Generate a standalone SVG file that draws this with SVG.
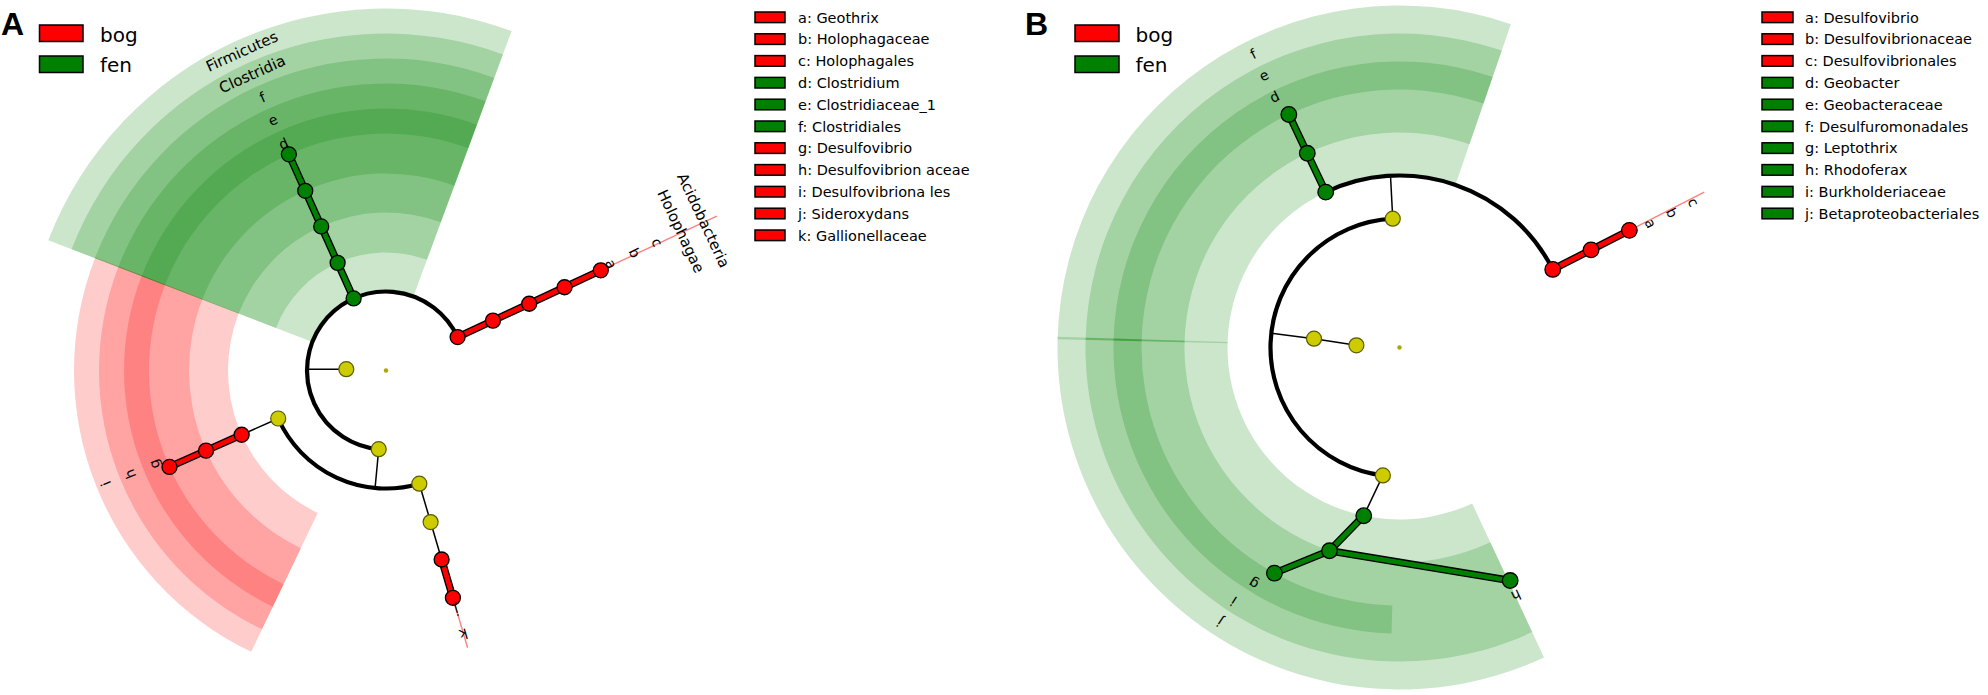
<svg xmlns="http://www.w3.org/2000/svg" width="1988" height="695" viewBox="0 0 1988 695">
<defs>
<style>
.sg{fill:#008000;fill-opacity:0.2}
.sr{fill:#ff0000;fill-opacity:0.2}
.arc{fill:none;stroke:#000;stroke-width:4.2}
.thin{fill:none;stroke:#000;stroke-width:1.5}
.pink{fill:none;stroke:#ff8080;stroke-width:1.4}
.co{fill:none;stroke:#000;stroke-width:7.5;stroke-linejoin:round}
.cg{fill:none;stroke:#008000;stroke-width:4.8;stroke-linejoin:round}
.cr{fill:none;stroke:#ff0000;stroke-width:4.8;stroke-linejoin:round}
.ng{fill:#008000;stroke:#000;stroke-width:1.3}
.nr{fill:#ff0000;stroke:#000;stroke-width:1.3}
.ny{fill:#cccc00;stroke:#5a5a00;stroke-width:1.2}
.dot{fill:#a8a800}
.lbl{font-family:"DejaVu Sans",sans-serif;font-size:14px;text-anchor:middle;dominant-baseline:central;fill:#000}
.cl{font-size:15px}
.leg{font-family:"DejaVu Sans",sans-serif;font-size:14.5px;fill:#000}
.big{font-family:"DejaVu Sans",sans-serif;font-size:20px;fill:#000}
.panel{font-family:"Liberation Sans",Arial,sans-serif;font-weight:bold;font-size:32px;fill:#000}
.lr{fill:#ff0000;stroke:#000;stroke-width:1.5}
.lgr{fill:#008000;stroke:#000;stroke-width:1.5}
</style>
</defs>
<rect width="1988" height="695" fill="#fff"/>

<!-- ===== Panel A ===== -->
<g id="A-sectors">
  <g transform="translate(386,370.5) rotate(115.6)">
    <path class="sr" d="M158 0 L312 0 A312 312 0 0 1 23.39 311.12 L11.85 157.55 A158 158 0 0 0 158 0Z"/>
    <path class="sr" d="M197 0 L287 0 A287 287 0 0 1 21.52 286.19 L14.77 196.44 A197 197 0 0 0 197 0Z"/>
    <path class="sr" d="M237 0 L262 0 A262 262 0 0 1 19.64 261.26 L17.77 236.33 A237 237 0 0 0 237 0Z"/>
  </g>
  <g transform="translate(386,370.5) rotate(-158.9)">
    <path class="sg" d="M79 0 L362 0 A362 362 0 0 1 5.05 361.96 L1.10 78.99 A79 79 0 0 0 79 0Z"/>
    <path class="sg" d="M118 0 L337 0 A337 337 0 0 1 4.71 336.97 L1.65 117.99 A118 118 0 0 0 118 0Z"/>
    <path class="sg" d="M158 0 L312 0 A312 312 0 0 1 4.36 311.97 L2.21 157.98 A158 158 0 0 0 158 0Z"/>
    <path class="sg" d="M197 0 L287 0 A287 287 0 0 1 4.01 286.97 L2.75 196.98 A197 197 0 0 0 197 0Z"/>
    <path class="sg" d="M237 0 L262 0 A262 262 0 0 1 3.66 261.97 L3.31 236.98 A237 237 0 0 0 237 0Z"/>
  </g>
</g>

<g id="A-connectors">
  <line class="pink" x1="452.91" y1="597.86" x2="467.6" y2="647.74"/>
  <line class="pink" x1="600.80" y1="270.34" x2="716.80" y2="216.24"/>
  <line class="thin" x1="307" y1="369.2" x2="346.3" y2="369.2"/>
  <line class="thin" x1="378.70" y1="449.16" x2="375.10" y2="488.0"/>
  <line class="thin" x1="278.2" y1="418.5" x2="241.66" y2="434.76"/>
  <polyline class="thin" points="419.32,483.70 430.61,522.07 441.62,559.48"/>
  <path class="arc" d="M457.60 337.11 A79 79 0 1 0 378.70 449.16"/>
  <path class="arc" d="M278.2 418.5 A118 118 0 0 0 419.32 483.70"/>
  <polyline class="co" points="353.62,298.44 337.63,262.87 321.23,226.39 305.25,190.81 288.85,154.33"/>
  <polyline class="cg" points="353.62,298.44 337.63,262.87 321.23,226.39 305.25,190.81 288.85,154.33"/>
  <polyline class="co" points="457.60,337.11 492.94,320.63 529.20,303.73 564.54,287.24 600.80,270.34"/>
  <polyline class="cr" points="457.60,337.11 492.94,320.63 529.20,303.73 564.54,287.24 600.80,270.34"/>
  <polyline class="co" points="241.66,434.76 206.03,450.63 169.49,466.90"/>
  <polyline class="cr" points="241.66,434.76 206.03,450.63 169.49,466.90"/>
  <polyline class="co" points="441.62,559.48 452.91,597.86"/>
  <polyline class="cr" points="441.62,559.48 452.91,597.86"/>
</g>

<g id="A-nodes">
  <circle class="dot" cx="386" cy="370.5" r="2.2"/>
  <circle id="A-bacteria" class="ny" cx="346.3" cy="369.2" r="7.5"/>
  <circle id="A-proteobacteria" class="ny" cx="378.70" cy="449.16" r="7.5"/>
  <circle id="A-deltaproteobacteria" class="ny" cx="278.2" cy="418.5" r="7.5"/>
  <circle id="A-betaproteobacteria" class="ny" cx="419.32" cy="483.70" r="7.5"/>
  <circle id="A-gallionellales" class="ny" cx="430.61" cy="522.07" r="7.5"/>
  <circle id="A-firmicutes" class="ng" cx="353.62" cy="298.44" r="7.5"/>
  <circle id="A-clostridia" class="ng" cx="337.63" cy="262.87" r="7.5"/>
  <circle id="A-f" class="ng" cx="321.23" cy="226.39" r="7.5"/>
  <circle id="A-e" class="ng" cx="305.25" cy="190.81" r="7.5"/>
  <circle id="A-d" class="ng" cx="288.85" cy="154.33" r="7.5"/>
  <circle id="A-acidobacteria" class="nr" cx="457.60" cy="337.11" r="7.5"/>
  <circle id="A-holophagae" class="nr" cx="492.94" cy="320.63" r="7.5"/>
  <circle id="A-c" class="nr" cx="529.20" cy="303.73" r="7.5"/>
  <circle id="A-b" class="nr" cx="564.54" cy="287.24" r="7.5"/>
  <circle id="A-a" class="nr" cx="600.80" cy="270.34" r="7.5"/>
  <circle id="A-i" class="nr" cx="241.66" cy="434.76" r="7.5"/>
  <circle id="A-h" class="nr" cx="206.03" cy="450.63" r="7.5"/>
  <circle id="A-g" class="nr" cx="169.49" cy="466.90" r="7.5"/>
  <circle id="A-k" class="nr" cx="441.62" cy="559.48" r="7.5"/>
  <circle id="A-j" class="nr" cx="452.91" cy="597.86" r="7.5"/>
</g>

<g id="A-labels">
  <text class="lbl" transform="translate(283.53,143.56) rotate(-24.3)">d</text>
  <text class="lbl" transform="translate(272.83,119.86) rotate(-24.3)">e</text>
  <text class="lbl" transform="translate(262.55,97.08) rotate(-24.3)">f</text>
  <text class="lbl cl" transform="translate(252.26,74.29) rotate(-24.3)">Clostridia</text>
  <text class="lbl cl" transform="translate(241.97,51.51) rotate(-24.3)">Firmicutes</text>
  <text class="lbl" transform="translate(611.12,264.09) rotate(64.7)">a</text>
  <text class="lbl" transform="translate(634.62,252.98) rotate(64.7)">b</text>
  <text class="lbl" transform="translate(657.22,242.29) rotate(64.7)">c</text>
  <text class="lbl cl" transform="translate(680.73,231.18) rotate(64.7)">Holophagae</text>
  <text class="lbl cl" transform="translate(703.33,220.50) rotate(64.7)">Acidobacteria</text>
  <text class="lbl" transform="translate(154.20,464.15) rotate(248)">g</text>
  <text class="lbl" transform="translate(130.10,473.89) rotate(248)">h</text>
  <text class="lbl" transform="translate(105.99,483.63) rotate(248)">i</text>
  <text class="lbl" transform="translate(456.59,610.33) rotate(163.6)">j</text>
  <text class="lbl" transform="translate(463.64,634.31) rotate(163.6)">k</text>
</g>

<g id="A-title">
  <text class="panel" x="1" y="35">A</text>
  <rect class="lr" x="39.5" y="25" width="43.5" height="16.5"/>
  <text class="big" x="100" y="41.5">bog</text>
  <rect class="lgr" x="39.5" y="56" width="43.5" height="16.5"/>
  <text class="big" x="100" y="71.5">fen</text>
</g>

<g id="A-legend">
  <rect class="lr" x="755" y="12.0" width="30" height="10.6"/><text class="leg" x="798" y="22.5">a: Geothrix</text>
  <rect class="lr" x="755" y="33.8" width="30" height="10.6"/><text class="leg" x="798" y="44.3">b: Holophagaceae</text>
  <rect class="lr" x="755" y="55.6" width="30" height="10.6"/><text class="leg" x="798" y="66.1">c: Holophagales</text>
  <rect class="lgr" x="755" y="77.4" width="30" height="10.6"/><text class="leg" x="798" y="87.9">d: Clostridium</text>
  <rect class="lgr" x="755" y="99.2" width="30" height="10.6"/><text class="leg" x="798" y="109.7">e: Clostridiaceae_1</text>
  <rect class="lgr" x="755" y="121.0" width="30" height="10.6"/><text class="leg" x="798" y="131.5">f: Clostridiales</text>
  <rect class="lr" x="755" y="142.8" width="30" height="10.6"/><text class="leg" x="798" y="153.3">g: Desulfovibrio</text>
  <rect class="lr" x="755" y="164.6" width="30" height="10.6"/><text class="leg" x="798" y="175.1">h: Desulfovibrion aceae</text>
  <rect class="lr" x="755" y="186.4" width="30" height="10.6"/><text class="leg" x="798" y="196.9">i: Desulfovibriona les</text>
  <rect class="lr" x="755" y="208.2" width="30" height="10.6"/><text class="leg" x="798" y="218.7">j: Sideroxydans</text>
  <rect class="lr" x="755" y="230.0" width="30" height="10.6"/><text class="leg" x="798" y="240.5">k: Gallionellaceae</text>
</g>

<!-- ===== Panel B ===== -->
<g id="B-sectors">
  <g transform="translate(1399.5,347.5) rotate(-178.6)">
    <path class="sg" d="M172 0 L342 0 A342 342 0 0 1 -103.41 325.99 L-52.01 163.95 A172 172 0 0 0 172 0Z"/>
    <path class="sg" d="M215 0 L314 0 A314 314 0 0 1 -94.94 299.30 L-65.01 204.94 A215 215 0 0 0 215 0Z"/>
    <path class="sg" d="M258 0 L286 0 A286 286 0 0 1 -86.48 272.61 L-78.01 245.92 A258 258 0 0 0 258 0Z"/>
  </g>
  <g transform="translate(1399.5,347.5) rotate(65)">
    <path class="sg" d="M172 0 L342 0 A342 342 0 0 1 -154.20 305.27 L-77.55 153.53 A172 172 0 0 0 172 0Z"/>
    <path class="sg" d="M215 0 L314 0 A314 314 0 0 1 -141.58 280.27 L-96.94 191.91 A215 215 0 0 0 215 0Z"/>
  </g>
  <g transform="translate(1399.5,347.5) rotate(91.6)">
    <path class="sg" d="M258 0 L286 0 A286 286 0 0 1 -1.00 286.00 L-0.90 258.00 A258 258 0 0 0 258 0Z"/>
  </g>
</g>

<g id="B-connectors">
  <line class="pink" x1="1629.38" y1="230.37" x2="1704.23" y2="192.24"/>
  <polyline class="thin" points="1271.5,333.2 1314,338.7 1356.4,345.3"/>
  <line class="thin" x1="1392.75" y1="218.68" x2="1390.5" y2="175.74"/>
  <line class="thin" x1="1382.88" y1="475.43" x2="1363.74" y2="515.74"/>
  <path class="arc" d="M1392.75 218.68 A129 129 0 0 0 1382.88 475.43"/>
  <path class="arc" d="M1325.72 192.13 A172 172 0 0 1 1552.75 269.41"/>
  <polyline class="co" points="1325.72,192.13 1307.28,153.28 1288.83,114.44"/>
  <polyline class="cg" points="1325.72,192.13 1307.28,153.28 1288.83,114.44"/>
  <polyline class="co" points="1552.75,269.41 1591.07,249.89 1629.38,230.37"/>
  <polyline class="cr" points="1552.75,269.41 1591.07,249.89 1629.38,230.37"/>
  <polyline class="co" points="1363.74,515.74 1329.5,550.79 1274.42,573.15"/>
  <polyline class="co" points="1329.5,550.79 1510.17,580.56"/>
  <polyline class="cg" points="1363.74,515.74 1329.5,550.79 1274.42,573.15"/>
  <polyline class="cg" points="1329.5,550.79 1510.17,580.56"/>
</g>

<g id="B-nodes">
  <circle class="dot" cx="1399.5" cy="347.5" r="2.2"/>
  <circle id="B-bacteria" class="ny" cx="1356.4" cy="345.3" r="7.5"/>
  <circle id="B-proteobacteria" class="ny" cx="1314" cy="338.7" r="7.5"/>
  <circle id="B-deltaproteobacteria" class="ny" cx="1392.75" cy="218.68" r="7.5"/>
  <circle id="B-betaproteobacteria" class="ny" cx="1382.88" cy="475.43" r="7.5"/>
  <circle id="B-f" class="ng" cx="1325.72" cy="192.13" r="7.8"/>
  <circle id="B-e" class="ng" cx="1307.28" cy="153.28" r="7.8"/>
  <circle id="B-d" class="ng" cx="1288.83" cy="114.44" r="7.8"/>
  <circle id="B-c" class="nr" cx="1552.75" cy="269.41" r="7.8"/>
  <circle id="B-b" class="nr" cx="1591.07" cy="249.89" r="7.8"/>
  <circle id="B-a" class="nr" cx="1629.38" cy="230.37" r="7.8"/>
  <circle id="B-j" class="ng" cx="1363.74" cy="515.74" r="7.8"/>
  <circle id="B-i" class="ng" cx="1329.5" cy="550.79" r="7.8"/>
  <circle id="B-g" class="ng" cx="1274.42" cy="573.15" r="7.8"/>
  <circle id="B-h" class="ng" cx="1510.17" cy="580.56" r="7.8"/>
</g>

<g id="B-labels">
  <text class="lbl" transform="translate(1274.56,96.92) rotate(-26.5)">d</text>
  <text class="lbl" transform="translate(1263.86,75.44) rotate(-26.5)">e</text>
  <text class="lbl" transform="translate(1253.15,53.96) rotate(-26.5)">f</text>
  <text class="lbl" transform="translate(1650.52,223.44) rotate(63.7)">a</text>
  <text class="lbl" transform="translate(1672.03,212.81) rotate(63.7)">b</text>
  <text class="lbl" transform="translate(1693.55,202.17) rotate(63.7)">c</text>
  <text class="lbl" transform="translate(1253.42,584.03) rotate(211.7)">g</text>
  <text class="lbl" transform="translate(1233.59,601.04) rotate(213.2)">i</text>
  <text class="lbl" transform="translate(1219.90,621.96) rotate(213.2)">j</text>
  <text class="lbl" transform="translate(1516.16,595.42) rotate(154.8)">h</text>
</g>

<g id="B-title">
  <text class="panel" x="1025" y="35">B</text>
  <rect class="lr" x="1075" y="25" width="44" height="16.5"/>
  <text class="big" x="1135.5" y="41.5">bog</text>
  <rect class="lgr" x="1075" y="56" width="44" height="16.5"/>
  <text class="big" x="1135.5" y="71.5">fen</text>
</g>

<g id="B-legend">
  <rect class="lr" x="1762" y="12.0" width="31" height="10.6"/><text class="leg" x="1805" y="22.5">a: Desulfovibrio</text>
  <rect class="lr" x="1762" y="33.8" width="31" height="10.6"/><text class="leg" x="1805" y="44.3">b: Desulfovibrionaceae</text>
  <rect class="lr" x="1762" y="55.6" width="31" height="10.6"/><text class="leg" x="1805" y="66.1">c: Desulfovibrionales</text>
  <rect class="lgr" x="1762" y="77.4" width="31" height="10.6"/><text class="leg" x="1805" y="87.9">d: Geobacter</text>
  <rect class="lgr" x="1762" y="99.2" width="31" height="10.6"/><text class="leg" x="1805" y="109.7">e: Geobacteraceae</text>
  <rect class="lgr" x="1762" y="121.0" width="31" height="10.6"/><text class="leg" x="1805" y="131.5">f: Desulfuromonadales</text>
  <rect class="lgr" x="1762" y="142.8" width="31" height="10.6"/><text class="leg" x="1805" y="153.3">g: Leptothrix</text>
  <rect class="lgr" x="1762" y="164.6" width="31" height="10.6"/><text class="leg" x="1805" y="175.1">h: Rhodoferax</text>
  <rect class="lgr" x="1762" y="186.4" width="31" height="10.6"/><text class="leg" x="1805" y="196.9">i: Burkholderiaceae</text>
  <rect class="lgr" x="1762" y="208.2" width="31" height="10.6"/><text class="leg" x="1805" y="218.7">j: Betaproteobacteriales</text>
</g>
</svg>
